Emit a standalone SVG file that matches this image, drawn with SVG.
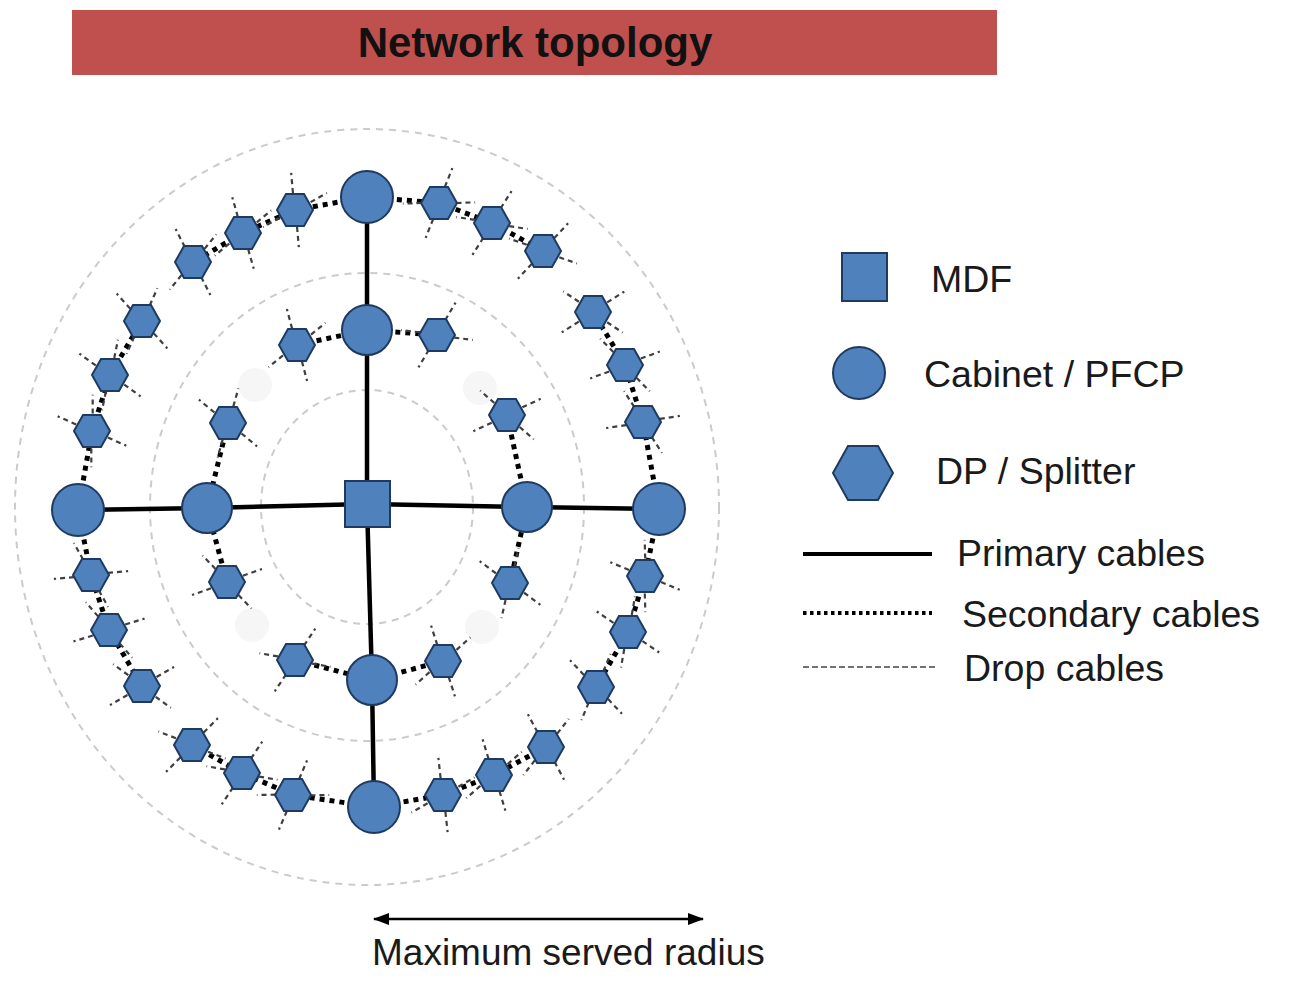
<svg xmlns="http://www.w3.org/2000/svg" xmlns:xlink="http://www.w3.org/1999/xlink" width="1307" height="987" viewBox="0 0 1307 987">
<style>
.ring{fill:none;stroke:#cbcbcb;stroke-width:2;stroke-dasharray:7 6}
.prim{fill:none;stroke:#000;stroke-width:4.5;stroke-linejoin:round}
.sec{fill:none;stroke:#000;stroke-width:5;stroke-dasharray:5 5}
.drop{fill:none;stroke:#3f3f3f;stroke-width:2.2;stroke-dasharray:5 4}
.node{fill:#4f81bd;stroke:#1f3a5f;stroke-width:2}
.lbl{font-family:"Liberation Sans",Arial,sans-serif;font-size:37.5px;fill:#1a1a1a}
.ghost{fill:#f6f6f6}
</style>
<defs>
<polygon id="hex" class="node" points="-18,0 -9,-16 9,-16 18,0 9,16 -9,16"/>
<g id="stubs">
<line class="drop" x1="2" y1="-17" x2="5" y2="-37"/>
<line class="drop" x1="-2" y1="17" x2="-5" y2="37"/>
<line class="drop" x1="17" y1="-4" x2="35" y2="-9"/>
<line class="drop" x1="-17" y1="4" x2="-35" y2="9"/>
</g>
<marker id="arr" viewBox="0 0 16 12" refX="15" refY="6" markerWidth="16" markerHeight="12" markerUnits="userSpaceOnUse" orient="auto-start-reverse">
<path d="M0,0 L16,6 L0,12 Z" fill="#000"/>
</marker>
</defs>
<rect width="1307" height="987" fill="#fff"/>

<g id="title">
<rect x="72" y="10" width="925" height="65" fill="#c0504d"/>
<text x="535" y="57" text-anchor="middle" font-family="'Liberation Sans',Arial,sans-serif" font-weight="bold" font-size="42" fill="#111">Network topology</text>
</g>

<g id="rings">
<ellipse class="ring" cx="367" cy="507" rx="352" ry="378"/>
<ellipse class="ring" cx="367" cy="507" rx="217" ry="234"/>
<ellipse class="ring" cx="367" cy="507" rx="106" ry="117"/>
<circle class="ghost" cx="255" cy="385" r="17"/>
<circle class="ghost" cx="252" cy="625" r="17"/>
<circle class="ghost" cx="482" cy="627" r="17"/>
<circle class="ghost" cx="480" cy="388" r="17"/>
</g>

<g id="connectors">
<polyline class="prim" points="367,197 367,504 372,680 374,807"/>
<polyline class="prim" points="78,510 207,508 367,504 527,507 659,509"/>
<polyline class="sec" points="367,197 295,210 243,233 193,262"/>
<polyline class="sec" points="367,197 439,203 492,223 543,251"/>
<polyline class="sec" points="659,509 643,422 625,365 593,312"/>
<polyline class="sec" points="659,509 645,576 628,632 596,687"/>
<polyline class="sec" points="374,807 443,795 494,775 546,747"/>
<polyline class="sec" points="374,807 293,795 242,773 192,745"/>
<polyline class="sec" points="78,510 92,431 110,375 142,321"/>
<polyline class="sec" points="78,510 91,575 109,630 142,686"/>
<polyline class="sec" points="297,345 367,330 437,335"/>
<polyline class="sec" points="507,415 527,507 510,583"/>
<polyline class="sec" points="295,660 372,680 443,661"/>
<polyline class="sec" points="228,423 207,508 227,582"/>
<g id="drops">
<use xlink:href="#stubs" href="#stubs" transform="translate(295,210) rotate(-13.6)"/>
<use xlink:href="#stubs" href="#stubs" transform="translate(243,233) rotate(-24.4)"/>
<use xlink:href="#stubs" href="#stubs" transform="translate(193,262) rotate(-35.4)"/>
<use xlink:href="#stubs" href="#stubs" transform="translate(439,203) rotate(13.3)"/>
<use xlink:href="#stubs" href="#stubs" transform="translate(492,223) rotate(23.8)"/>
<use xlink:href="#stubs" href="#stubs" transform="translate(543,251) rotate(34.5)"/>
<use xlink:href="#stubs" href="#stubs" transform="translate(593,312) rotate(49.2)"/>
<use xlink:href="#stubs" href="#stubs" transform="translate(625,365) rotate(61.2)"/>
<use xlink:href="#stubs" href="#stubs" transform="translate(643,422) rotate(72.9)"/>
<use xlink:href="#stubs" href="#stubs" transform="translate(645,576) rotate(103.9)"/>
<use xlink:href="#stubs" href="#stubs" transform="translate(628,632) rotate(115.6)"/>
<use xlink:href="#stubs" href="#stubs" transform="translate(596,687) rotate(128.2)"/>
<use xlink:href="#stubs" href="#stubs" transform="translate(546,747) rotate(143.3)"/>
<use xlink:href="#stubs" href="#stubs" transform="translate(494,775) rotate(154.6)"/>
<use xlink:href="#stubs" href="#stubs" transform="translate(443,795) rotate(165.2)"/>
<use xlink:href="#stubs" href="#stubs" transform="translate(293,795) rotate(-165.6)"/>
<use xlink:href="#stubs" href="#stubs" transform="translate(242,773) rotate(-154.8)"/>
<use xlink:href="#stubs" href="#stubs" transform="translate(192,745) rotate(-143.7)"/>
<use xlink:href="#stubs" href="#stubs" transform="translate(142,686) rotate(-128.5)"/>
<use xlink:href="#stubs" href="#stubs" transform="translate(109,630) rotate(-115.5)"/>
<use xlink:href="#stubs" href="#stubs" transform="translate(91,575) rotate(-103.8)"/>
<use xlink:href="#stubs" href="#stubs" transform="translate(92,431) rotate(-74.5)"/>
<use xlink:href="#stubs" href="#stubs" transform="translate(110,375) rotate(-62.8)"/>
<use xlink:href="#stubs" href="#stubs" transform="translate(142,321) rotate(-50.4)"/>
<use xlink:href="#stubs" href="#stubs" transform="translate(297,345) rotate(-23.4)"/>
<use xlink:href="#stubs" href="#stubs" transform="translate(437,335) rotate(22.1)"/>
<use xlink:href="#stubs" href="#stubs" transform="translate(228,423) rotate(-58.9)"/>
<use xlink:href="#stubs" href="#stubs" transform="translate(507,415) rotate(56.7)"/>
<use xlink:href="#stubs" href="#stubs" transform="translate(227,582) rotate(-118.2)"/>
<use xlink:href="#stubs" href="#stubs" transform="translate(510,583) rotate(118)"/>
<use xlink:href="#stubs" href="#stubs" transform="translate(295,660) rotate(-154.8)"/>
<use xlink:href="#stubs" href="#stubs" transform="translate(443,661) rotate(153.7)"/>
</g>
</g>

<g id="mdf"><rect class="node" x="345" y="481" width="45" height="46"/></g>

<g id="cabinets">
<circle id="cab-top-outer" class="node" cx="367" cy="197" r="26"/>
<circle id="cab-top-inner" class="node" cx="367" cy="330" r="25"/>
<circle id="cab-bottom-inner" class="node" cx="372" cy="680" r="25"/>
<circle id="cab-bottom-outer" class="node" cx="374" cy="807" r="26"/>
<circle id="cab-left-outer" class="node" cx="78" cy="510" r="26"/>
<circle id="cab-left-inner" class="node" cx="207" cy="508" r="25"/>
<circle id="cab-right-inner" class="node" cx="527" cy="507" r="25"/>
<circle id="cab-right-outer" class="node" cx="659" cy="509" r="26"/>
</g>

<g id="splitters">
<use xlink:href="#hex" href="#hex" x="295" y="210"/>
<use xlink:href="#hex" href="#hex" x="243" y="233"/>
<use xlink:href="#hex" href="#hex" x="193" y="262"/>
<use xlink:href="#hex" href="#hex" x="439" y="203"/>
<use xlink:href="#hex" href="#hex" x="492" y="223"/>
<use xlink:href="#hex" href="#hex" x="543" y="251"/>
<use xlink:href="#hex" href="#hex" x="593" y="312"/>
<use xlink:href="#hex" href="#hex" x="625" y="365"/>
<use xlink:href="#hex" href="#hex" x="643" y="422"/>
<use xlink:href="#hex" href="#hex" x="645" y="576"/>
<use xlink:href="#hex" href="#hex" x="628" y="632"/>
<use xlink:href="#hex" href="#hex" x="596" y="687"/>
<use xlink:href="#hex" href="#hex" x="546" y="747"/>
<use xlink:href="#hex" href="#hex" x="494" y="775"/>
<use xlink:href="#hex" href="#hex" x="443" y="795"/>
<use xlink:href="#hex" href="#hex" x="293" y="795"/>
<use xlink:href="#hex" href="#hex" x="242" y="773"/>
<use xlink:href="#hex" href="#hex" x="192" y="745"/>
<use xlink:href="#hex" href="#hex" x="142" y="686"/>
<use xlink:href="#hex" href="#hex" x="109" y="630"/>
<use xlink:href="#hex" href="#hex" x="91" y="575"/>
<use xlink:href="#hex" href="#hex" x="92" y="431"/>
<use xlink:href="#hex" href="#hex" x="110" y="375"/>
<use xlink:href="#hex" href="#hex" x="142" y="321"/>
<use xlink:href="#hex" href="#hex" x="297" y="345"/>
<use xlink:href="#hex" href="#hex" x="437" y="335"/>
<use xlink:href="#hex" href="#hex" x="228" y="423"/>
<use xlink:href="#hex" href="#hex" x="507" y="415"/>
<use xlink:href="#hex" href="#hex" x="227" y="582"/>
<use xlink:href="#hex" href="#hex" x="510" y="583"/>
<use xlink:href="#hex" href="#hex" x="295" y="660"/>
<use xlink:href="#hex" href="#hex" x="443" y="661"/>
</g>

<g id="legend">
<rect class="node" x="842" y="253" width="45" height="48"/>
<text class="lbl" x="931" y="292">MDF</text>
<circle class="node" cx="859" cy="373" r="26"/>
<text class="lbl" x="924" y="387">Cabinet / PFCP</text>
<polygon class="node" points="833,473 848,446 878,446 893,473 878,500 848,500"/>
<text class="lbl" x="936" y="484">DP / Splitter</text>
<line x1="803" y1="554" x2="932" y2="554" stroke="#000" stroke-width="4"/>
<text class="lbl" x="957" y="566">Primary cables</text>
<line x1="803" y1="613" x2="932" y2="613" stroke="#000" stroke-width="4" stroke-dasharray="3.5 3.5"/>
<text class="lbl" x="962" y="627">Secondary cables</text>
<line x1="803" y1="667" x2="936" y2="667" stroke="#444" stroke-width="1.5" stroke-dasharray="6 3"/>
<text class="lbl" x="964" y="681">Drop cables</text>
</g>

<g id="radius">
<line x1="374" y1="919" x2="703" y2="919" stroke="#000" stroke-width="2.5" marker-start="url(#arr)" marker-end="url(#arr)"/>
<text class="lbl" x="372" y="965" style="font-size:37px">Maximum served radius</text>
</g>
</svg>
